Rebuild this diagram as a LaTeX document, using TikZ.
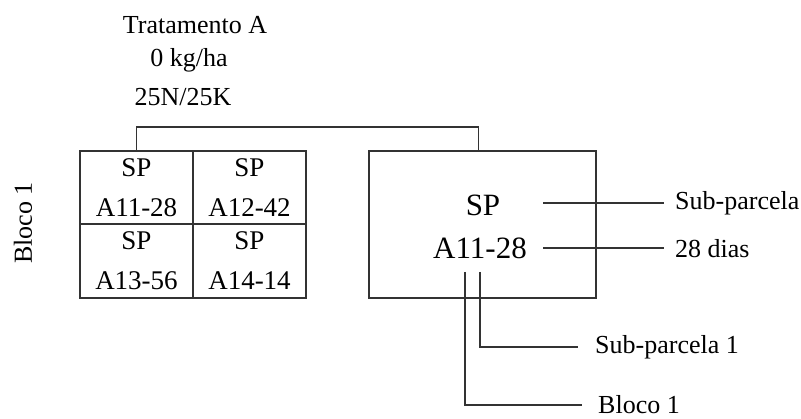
\documentclass[tikz,border=0pt]{standalone}
\usepackage{fontspec}
\setmainfont{Liberation Serif}
\begin{document}
\begin{tikzpicture}[x=1pt,y=-1pt,
  ln/.style={line width=1.6pt,draw=black!80},
  lbl/.style={font=\fontsize{26}{30}\selectfont,inner sep=0pt},
  cell/.style={ln,minimum width=113pt,minimum height=73.5pt,inner sep=0pt,align=center,
    font=\fontsize{27}{40}\selectfont},
  bigtxt/.style={font=\fontsize{31}{36}\selectfont,inner sep=0pt}]
\useasboundingbox (0,0) rectangle (801,419);
% title
\node[lbl] (t1) at (195,25) {Tratamento A};
\node[lbl] (t2) at (189,60) {0 kg/ha};
\node[lbl] (t3) at (183,97) {25N/25K};
% block label
\node[lbl,rotate=90] (bl) at (23,223) {Bloco 1};
% grid
\node[cell] (c11) at (136.5,187.5) {SP\\A11-28};
\node[cell] (c12) at (249.5,187.5) {SP\\A12-42};
\node[cell] (c21) at (136.5,261) {SP\\A13-56};
\node[cell] (c22) at (249.5,261) {SP\\A14-14};
% big box
\node[ln,minimum width=227pt,minimum height=147pt,inner sep=0pt] (big) at (482.5,224.5) {};
\node[bigtxt] (sp) at (483,205) {SP};
\node[bigtxt] (code) at (480,248) {A11-28};
% bracket
\draw[ln] (c11.north) -- ++(0,-23) -| ([xshift=-4pt]big.north);
% right labels
\node[lbl,anchor=west] (l1) at (675,203) {Sub-parcela};
\node[lbl,anchor=west] (l2) at (675,249) {28 dias};
\node[lbl,anchor=west] (l3) at (595,347) {Sub-parcela 1};
\node[lbl,anchor=west] (l4) at (598,405) {Bloco 1};
\coordinate (s1) at (543,203);
\coordinate (s2) at (543,248);
\coordinate (vb) at (465,272);
\coordinate (vs) at (480,272);
\draw[ln] (s1) -- ([xshift=-11pt]l1.west |- s1);
\draw[ln] (s2) -- ([xshift=-11pt]l2.west |- s2);
\draw[ln] (vs) |- ([xshift=-17pt]l3.west);
\draw[ln] (vb) |- ([xshift=-16pt]l4.west);
\end{tikzpicture}
\end{document}
